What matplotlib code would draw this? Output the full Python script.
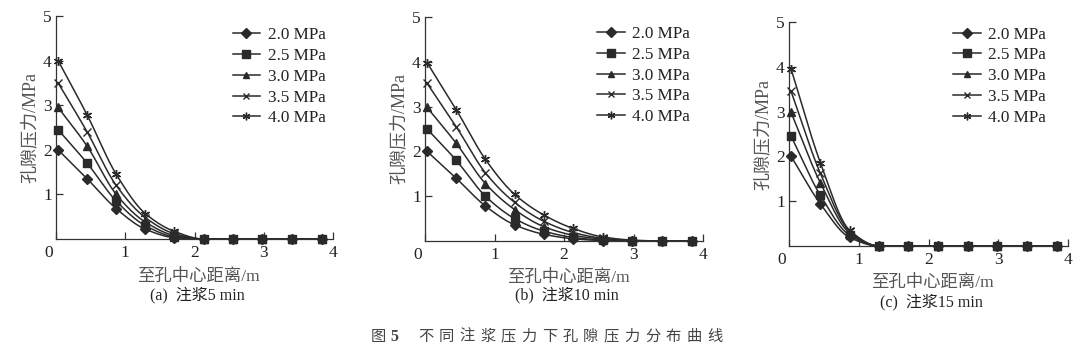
import numpy as np
import matplotlib
matplotlib.use("Agg")
import matplotlib.pyplot as plt
import matplotlib.transforms as mtrans

# ---------------- data ----------------
distance = [0.03, 0.45, 0.87, 1.29, 1.71, 2.13, 2.56, 2.98, 3.41, 3.84]
series_labels = ["2.0 MPa", "2.5 MPa", "3.0 MPa", "3.5 MPa", "4.0 MPa"]

p5_20 = [2.00, 1.35, 0.68, 0.22, 0.03, 0, 0, 0, 0, 0]
p5_25 = [2.45, 1.70, 0.85, 0.30, 0.05, 0, 0, 0, 0, 0]
p5_30 = [2.95, 2.08, 1.00, 0.38, 0.08, 0, 0, 0, 0, 0]
p5_35 = [3.50, 2.40, 1.20, 0.48, 0.12, 0, 0, 0, 0, 0]
p5_40 = [4.00, 2.78, 1.45, 0.57, 0.17, 0, 0, 0, 0, 0]

p10_20 = [2.00, 1.40, 0.78, 0.36, 0.15, 0.05, 0.01, 0, 0, 0]
p10_25 = [2.50, 1.80, 1.00, 0.50, 0.22, 0.08, 0.02, 0, 0, 0]
p10_30 = [2.98, 2.18, 1.28, 0.70, 0.32, 0.13, 0.04, 0, 0, 0]
p10_35 = [3.52, 2.55, 1.52, 0.86, 0.44, 0.19, 0.06, 0.01, 0, 0]
p10_40 = [3.98, 2.93, 1.82, 1.04, 0.58, 0.28, 0.09, 0.02, 0, 0]

p15_20 = [2.00, 0.94, 0.19, 0, 0, 0, 0, 0, 0, 0]
p15_25 = [2.45, 1.13, 0.24, 0, 0, 0, 0, 0, 0, 0]
p15_30 = [2.98, 1.41, 0.29, 0, 0, 0, 0, 0, 0, 0]
p15_35 = [3.45, 1.62, 0.33, 0, 0, 0, 0, 0, 0, 0]
p15_40 = [3.95, 1.86, 0.35, 0, 0, 0, 0, 0, 0, 0]

panels = [
    ([p5_20, p5_25, p5_30, p5_35, p5_40], "(a)  注浆5 min"),
    ([p10_20, p10_25, p10_30, p10_35, p10_40], "(b)  注浆10 min"),
    ([p15_20, p15_25, p15_30, p15_35, p15_40], "(c)  注浆15 min"),
]
x_ticks = [0, 1, 2, 3, 4]
y_ticks = [1, 2, 3, 4, 5]
x_label = "至孔中心距离/m"
y_label = "孔隙压力/MPa"
caption_num = "图5"
caption_text = "不同注浆压力下孔隙压力分布曲线"

# ---------------- helpers ----------------
def pchip(x, y, xs):
    x = np.asarray(x, float); y = np.asarray(y, float)
    h = np.diff(x); d = np.diff(y) / h
    n = len(x); m = np.zeros(n)
    for k in range(1, n - 1):
        if d[k - 1] * d[k] <= 0:
            m[k] = 0
        else:
            w1 = 2 * h[k] + h[k - 1]; w2 = h[k] + 2 * h[k - 1]
            m[k] = (w1 + w2) / (w1 / d[k - 1] + w2 / d[k])
    m[0] = d[0]; m[-1] = d[-1]
    idx = np.clip(np.searchsorted(x, xs) - 1, 0, n - 2)
    t = (xs - x[idx]) / h[idx]
    h00 = 2 * t**3 - 3 * t**2 + 1; h10 = t**3 - 2 * t**2 + t
    h01 = -2 * t**3 + 3 * t**2; h11 = t**3 - t**2
    return h00 * y[idx] + h10 * h[idx] * m[idx] + h01 * y[idx + 1] + h11 * h[idx] * m[idx + 1]

CJK = ["Liberation Serif", "Noto Sans CJK SC", "DejaVu Sans"]
plt.rcParams["font.family"] = CJK

W, H = 1080, 353
fig = plt.figure(figsize=(W / 100, H / 100), dpi=100)
fig.patch.set_facecolor("white")

def px(x, y):
    return x / W, 1 - y / H

# axes boxes in pixels: left, right, top(y=5), bottom(y=0)
boxes = [(56, 333, 16, 239), (425, 703, 17, 241), (789, 1068, 22, 246)]
xlabel_y = [277, 278, 283]
sub_y = [295, 295, 302]
legend_anchor = [(0.625, 0.965), (0.608, 0.975), (0.577, 0.995)]

markers = [dict(marker="D", ms=5.5), dict(marker="s", ms=6.2), dict(marker="^", ms=5.2),
           dict(marker="x", ms=5.5, mew=1.0), dict(marker=(6, 2, 0), ms=6.5, mew=1.0)]
line_col = "#2a2a2a"
text_col = "#222222"
label_col = "#555555"

xs = np.linspace(distance[0], distance[-1], 400)
for (series, sub), (l, r, t, b), xly, sy, anc in zip(panels, boxes, xlabel_y, sub_y, legend_anchor):
    ax = fig.add_axes([l / W, 1 - b / H, (r - l) / W, (b - t) / H])
    for vals, lab, mk in zip(series, series_labels, markers):
        ax.plot(xs, np.clip(pchip(distance, vals, xs), 0, None), color=line_col, lw=1.1, zorder=2)
        ax.plot(distance, vals, ls="none", color=line_col, zorder=3, clip_on=False, **mk)
        ax.plot([], [], color=line_col, lw=1.1, label=lab, **mk)
    ax.set_xlim(0, 4); ax.set_ylim(0, 5)
    for s in ["top", "right"]:
        ax.spines[s].set_visible(False)
    for s in ["left", "bottom"]:
        ax.spines[s].set_color("#333333"); ax.spines[s].set_linewidth(0.9)
    ax.set_xticks(x_ticks); ax.set_yticks(y_ticks)
    ax.set_xticklabels([str(v) for v in x_ticks])
    ax.set_yticklabels([str(v) for v in y_ticks])
    ax.tick_params(direction="in", length=5, width=0.9, color="#333333",
                   labelsize=12.5, labelcolor=text_col, pad=4)
    ax.tick_params(axis="y", pad=3)
    lab0 = ax.get_xticklabels()[0]
    lab0.set_transform(lab0.get_transform() + mtrans.ScaledTranslation(-7 / 100, 0, fig.dpi_scale_trans))
    ax.set_ylabel(y_label, family=CJK, fontsize=13, color=label_col, labelpad=3)
    ax.patch.set_alpha(0)
    leg = ax.legend(loc="upper left", bbox_to_anchor=anc, frameon=False,
                    prop=dict(family="Liberation Serif", size=12.3), handlelength=1.6,
                    handletextpad=0.45, labelspacing=0.28, borderpad=0.2, borderaxespad=0,
                    markerscale=0.85)
    for txt in leg.get_texts():
        txt.set_color(text_col)
    cx = (l + r) / 2
    fig.text(*px(cx + 4, xly), x_label, family=CJK, fontsize=12.5, color=label_col,
             ha="center", va="center")
    fig.text(*px(cx + 3, sy), sub, family=CJK, fontsize=11.5, color=text_col,
             ha="center", va="center")

# caption with wide character spacing
fig.text(*px(378, 337), caption_num[0], family=CJK, fontsize=11, color="#444444",
         ha="center", va="center")
fig.text(*px(394, 337), caption_num[1:], family=CJK, fontsize=11.5, color="#444444",
         ha="center", va="center", fontweight="bold")
for i, ch in enumerate(caption_text):
    fig.text(*px(426 + i * 20.6, 337), ch, family=CJK, fontsize=11, color="#444444",
             ha="center", va="center")

fig.savefig("out.png", dpi=100, facecolor="white")
